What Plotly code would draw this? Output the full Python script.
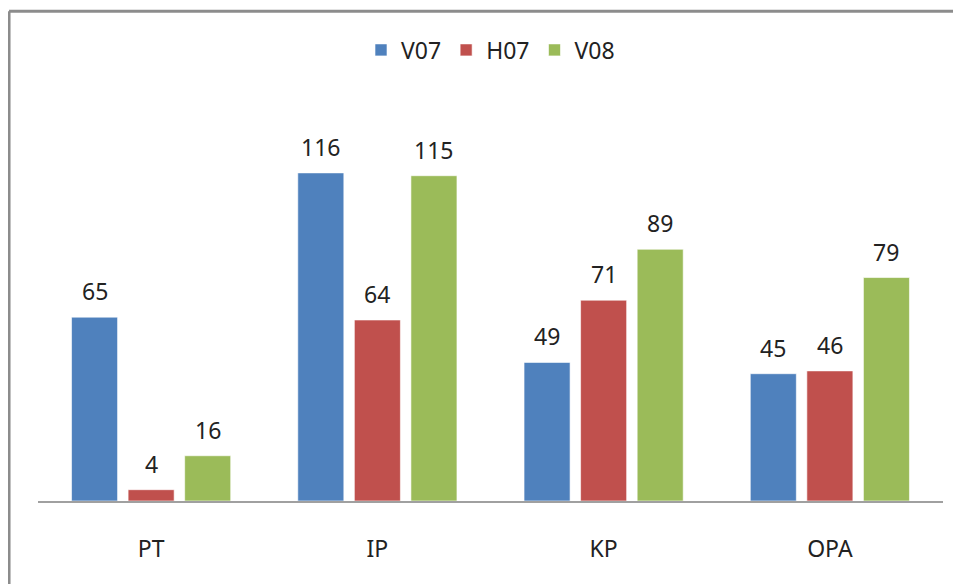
import plotly.graph_objects as go

categories = ["PT", "IP", "KP", "OPA"]
v07 = [65, 116, 49, 45]
h07 = [4, 64, 71, 46]
v08 = [16, 115, 89, 79]

series = [("V07", v07, "#4F81BD"), ("H07", h07, "#C0504D"), ("V08", v08, "#9BBB59")]

W, H = 953, 576
ML, MR, MT, MB = 30, 18, 97, 83
bargap = 0.25
plot_w = W - ML - MR
slot = plot_w / len(categories) * (1 - bargap) / len(series)

fig = go.Figure()
for i, (name, vals, color) in enumerate(series):
    fig.add_trace(go.Bar(x=categories, y=vals, name=name, marker_color=color,
                         marker_line_color="rgba(255,255,255,0.6)", marker_line_width=1))
    # value labels above bars
    for cat, v in zip(categories, vals):
        fig.add_annotation(x=cat, y=v, text=str(v), showarrow=False, yanchor="bottom",
                           xshift=(i - 1) * slot, yshift=8,
                           font=dict(size=23, color="#222"))

# chart border (top and left only visible)
fig.add_shape(type="line", xref="paper", yref="paper", x0=-0.032, x1=1.1, y0=1.237, y1=1.237,
              line=dict(color="#8c8c8c", width=3))
fig.add_shape(type="line", xref="paper", yref="paper", x0=-0.032, x1=-0.032, y0=1.237, y1=-0.3,
              line=dict(color="#8c8c8c", width=3))

fig.update_layout(
    width=W, height=H,
    margin=dict(l=ML, r=MR, t=MT, b=MB),
    paper_bgcolor="white", plot_bgcolor="white",
    font=dict(family="Noto Sans", size=23, color="#222"),
    barmode="group", bargap=bargap, bargroupgap=0.186,
    showlegend=True,
    legend=dict(orientation="h", x=0.5, xanchor="center", y=1.139, yanchor="middle",
                font=dict(size=23), itemwidth=30, traceorder="normal"),
)
fig.update_xaxes(showline=True, linecolor="#a0a0a0", linewidth=2, ticks="",
                 ticklabelstandoff=26, showgrid=False)
fig.update_yaxes(range=[0, 140], visible=False, showgrid=False)

fig.write_html("out.html")
